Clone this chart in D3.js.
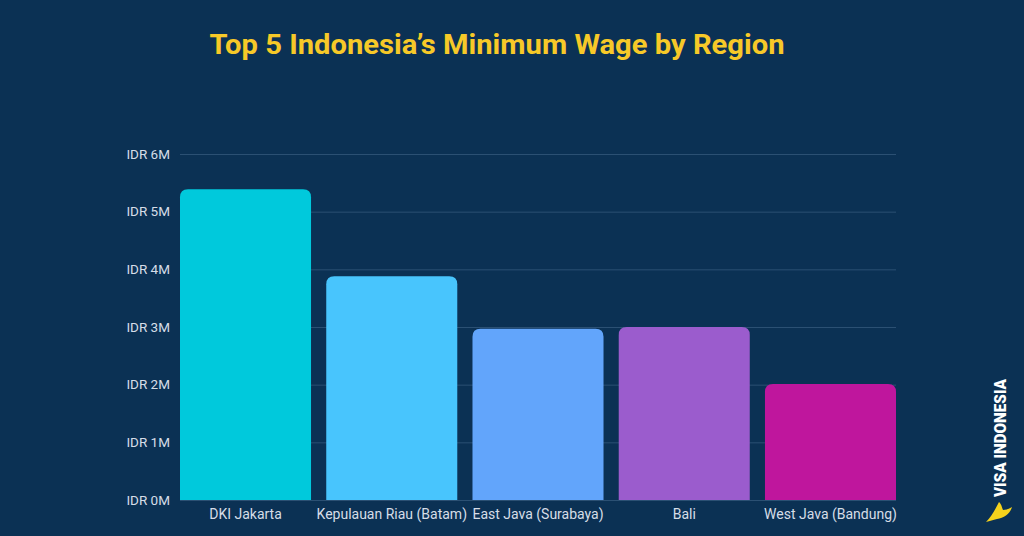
<!DOCTYPE html>
<html>
<head>
<meta charset="utf-8">
<script src="https://cdn.jsdelivr.net/npm/d3@7"></script>
<style>
  html, body { margin: 0; padding: 0; background: #0b3154; }
  svg { display: block; }
</style>
</head>
<body>
<svg id="chart" width="1024" height="536"></svg>
<script>
const categories = ["DKI Jakarta", "Kepulauan Riau (Batam)", "East Java (Surabaya)", "Bali", "West Java (Bandung)"];
const values = [5.39, 3.88, 2.97, 3.0, 2.01]; // IDR millions
const colors = ["#00c9dc", "#48c5fd", "#62a5fb", "#9b5ccd", "#bf169d"];
const yTicks = [0, 1, 2, 3, 4, 5, 6];
const yTickLabels = ["IDR 0M", "IDR 1M", "IDR 2M", "IDR 3M", "IDR 4M", "IDR 5M", "IDR 6M"];
const title = "Top 5 Indonesia\u2019s Minimum Wage by Region";

const svg = d3.select("#chart");
const W = 1024, H = 536;
svg.append("rect").attr("width", W).attr("height", H).attr("fill", "#0b3154");

const x = d3.scaleBand().domain(categories).range([180, 896]).paddingInner(0.104).paddingOuter(0);
const y = d3.scaleLinear().domain([0, 6]).range([500, 154]);

// title
svg.append("text")
  .attr("x", 497).attr("y", 54)
  .attr("text-anchor", "middle")
  .attr("font-family", "Roboto, sans-serif")
  .attr("font-weight", 700)
  .attr("font-size", 28)
  .attr("textLength", 575)
  .attr("lengthAdjust", "spacingAndGlyphs")
  .attr("fill", "#f7c928")
  .text(title);

// gridlines
const yAxis = d3.axisLeft(y).tickValues(yTicks).tickSize(-(896 - 180)).tickPadding(10)
  .tickFormat((d, i) => yTickLabels[i]);
const gy = svg.append("g").attr("transform", "translate(180,0)").call(yAxis);
gy.select(".domain").remove();
gy.selectAll(".tick line").attr("stroke", "#2b5073").attr("stroke-width", 1);
gy.selectAll(".tick text")
  .attr("font-family", "Roboto, sans-serif")
  .attr("font-size", 13.5)
  .attr("fill", "#d6dde7");

// bars with rounded top corners
const r = 8;
function barPath(x0, y0, w, h) {
  const rr = Math.min(r, h, w / 2);
  return `M${x0},${y0 + h} V${y0 + rr} Q${x0},${y0} ${x0 + rr},${y0} H${x0 + w - rr} Q${x0 + w},${y0} ${x0 + w},${y0 + rr} V${y0 + h} Z`;
}
svg.append("g").selectAll("path")
  .data(categories)
  .join("path")
  .attr("d", (d, i) => barPath(x(d), y(values[i]), x.bandwidth(), y(0) - y(values[i])))
  .attr("fill", (d, i) => colors[i]);

// x axis labels
const xAxis = d3.axisBottom(x).tickSize(0).tickPadding(9);
const gx = svg.append("g").attr("transform", "translate(0,500)").call(xAxis);
gx.select(".domain").remove();
gx.selectAll(".tick text")
  .attr("font-family", "Roboto, sans-serif")
  .attr("font-size", 14)
  .attr("fill", "#d6dde7");

// watermark
svg.append("text")
  .attr("transform", "translate(1006,438) rotate(-90)")
  .attr("text-anchor", "middle")
  .attr("font-family", "Roboto, sans-serif")
  .attr("font-weight", 900)
  .attr("font-size", 16)
  .attr("textLength", 118)
  .attr("lengthAdjust", "spacingAndGlyphs")
  .attr("fill", "#ffffff")
  .text("VISA INDONESIA");

svg.append("path")
  .attr("d", "M986,522 C991,517 995,510 999,502 C1002,505 1002,508 1003,510 C1006,510 1009,509 1012,507 C1010,514 1004,518 997,519 C993,520 990,521 986,522 Z")
  .attr("fill", "#f5d21c");
</script>
</body>
</html>
